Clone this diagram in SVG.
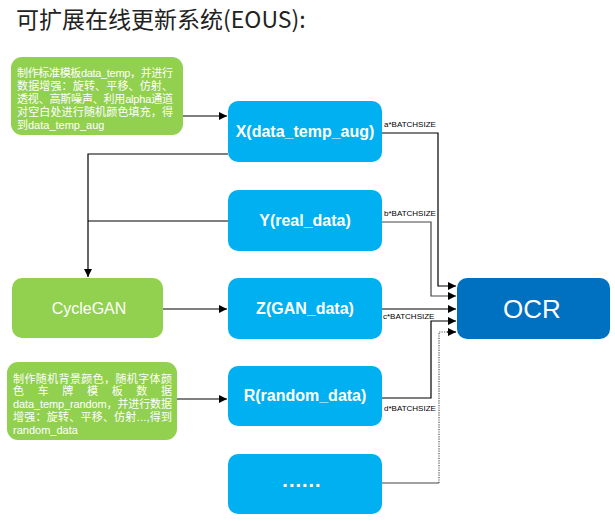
<svg xmlns="http://www.w3.org/2000/svg" width="615" height="521" viewBox="0 0 615 521">
<style>
.title{font-family:"Noto Sans CJK SC","Noto Sans",sans-serif;font-size:23px;fill:#222}
.gbox{fill:#92D050}
.bbox{fill:#00B0F0}
.obox{fill:#0070C0}
.gt{font-family:"Liberation Sans","Noto Sans CJK SC",sans-serif;font-size:11px;fill:#fff}
.bt{font-family:"Liberation Sans","Noto Sans CJK SC",sans-serif;font-size:16px;font-weight:bold;fill:#fff;text-anchor:middle}
.ct{font-family:"Liberation Sans",sans-serif;font-size:16px;fill:#fff;text-anchor:middle}
.ot{font-family:"Liberation Sans",sans-serif;font-size:26px;fill:#fff;text-anchor:middle}
.lbl{font-family:"Liberation Sans",sans-serif;font-size:8px;fill:#000}
.ln{fill:none;stroke:#000;stroke-width:1.2}
.lg{fill:none;stroke:#444;stroke-width:1.2}
.dot{fill:none;stroke:#555;stroke-width:1.2;stroke-dasharray:1.2 1.2}
</style>
<defs>
<marker id="ah" viewBox="0 0 10 10" refX="10" refY="5" markerWidth="10" markerHeight="8" markerUnits="userSpaceOnUse" orient="auto">
<path d="M0,0 L10,5 L0,10 z" fill="#000"/>
</marker>
</defs>
<text class="title" x="16" y="28">可扩展在线更新系统(EOUS):</text>

<g id="connectors">
<line class="ln" x1="183" y1="116" x2="227" y2="116" marker-end="url(#ah)"/>
<polyline class="ln" points="228,154 88,154 88,277" marker-end="url(#ah)"/>
<line class="ln" x1="228" y1="221" x2="88" y2="221"/>
<line class="ln" x1="163" y1="309" x2="227" y2="309" marker-end="url(#ah)"/>
<line class="ln" x1="177" y1="399" x2="227" y2="399" marker-end="url(#ah)"/>
<polyline class="ln" points="382,133 438,133 438,286 456,286" marker-end="url(#ah)"/>
<polyline class="lg" points="382,222 431,222 431,296 456,296" marker-end="url(#ah)"/>
<line class="ln" x1="382" y1="309" x2="456" y2="309" marker-end="url(#ah)"/>
<polyline class="ln" points="382,398 431,398 431,321 456,321" marker-end="url(#ah)"/>
<line class="lg" x1="382" y1="483" x2="439" y2="483"/>
<polyline class="dot" points="439,483 439,332 448,332"/>
<line class="ln" x1="447" y1="332" x2="456" y2="332" marker-end="url(#ah)"/>
<text class="lbl" x="384" y="127">a*BATCHSIZE</text>
<text class="lbl" x="384" y="216">b*BATCHSIZE</text>
<text class="lbl" x="383" y="319">c*BATCHSIZE</text>
<text class="lbl" x="384" y="411">d*BATCHSIZE</text>
</g>

<g id="note1">
<rect class="gbox" x="11" y="57" width="172" height="78" rx="11"/>
<text class="gt" x="17" y="77" textLength="156" lengthAdjust="spacing">制作标准模板data_temp，并进行</text>
<text class="gt" x="17" y="90" textLength="156" lengthAdjust="spacing">数据增强：旋转、平移、仿射、</text>
<text class="gt" x="17" y="103" textLength="156" lengthAdjust="spacing">透视、高斯噪声、利用alpha通道</text>
<text class="gt" x="17" y="116" textLength="156" lengthAdjust="spacing">对空白处进行随机颜色填充，得</text>
<text class="gt" x="17" y="129">到data_temp_aug</text>
</g>

<g id="note2">
<rect class="gbox" x="7" y="362" width="170" height="78" rx="11"/>
<text class="gt" x="13" y="383" textLength="159" lengthAdjust="spacing">制作随机背景颜色，随机字体颜</text>
<text class="gt" x="13" y="395" textLength="159" lengthAdjust="spacing">色车牌模板数据</text>
<text class="gt" x="13" y="408" textLength="159" lengthAdjust="spacing">data_temp_random，并进行数据</text>
<text class="gt" x="13" y="421" textLength="159" lengthAdjust="spacing">增强：旋转、平移、仿射...,得到</text>
<text class="gt" x="13" y="434">random_data</text>
</g>

<g id="cyclegan">
<rect class="gbox" x="12" y="278" width="151" height="60" rx="10"/>
<text class="ct" x="89" y="314">CycleGAN</text>
</g>

<g id="X">
<rect class="bbox" x="228" y="101" width="154" height="61" rx="10"/>
<text class="bt" x="305" y="137">X(data_temp_aug)</text>
</g>
<g id="Y">
<rect class="bbox" x="228" y="190" width="154" height="61" rx="10"/>
<text class="bt" x="305" y="226">Y(real_data)</text>
</g>
<g id="Z">
<rect class="bbox" x="228" y="278" width="154" height="61" rx="10"/>
<text class="bt" x="305" y="314">Z(GAN_data)</text>
</g>
<g id="R">
<rect class="bbox" x="228" y="366" width="154" height="60" rx="10"/>
<text class="bt" x="305" y="401">R(random_data)</text>
</g>
<g id="more">
<rect class="bbox" x="228" y="454" width="154" height="60" rx="10"/>
<text class="bt" x="302" y="487" style="font-size:20px;letter-spacing:1px">......</text>
</g>
<g id="OCR">
<rect class="obox" x="457" y="278" width="153" height="61" rx="10"/>
<text class="ot" x="532" y="318">OCR</text>
</g>
</svg>
